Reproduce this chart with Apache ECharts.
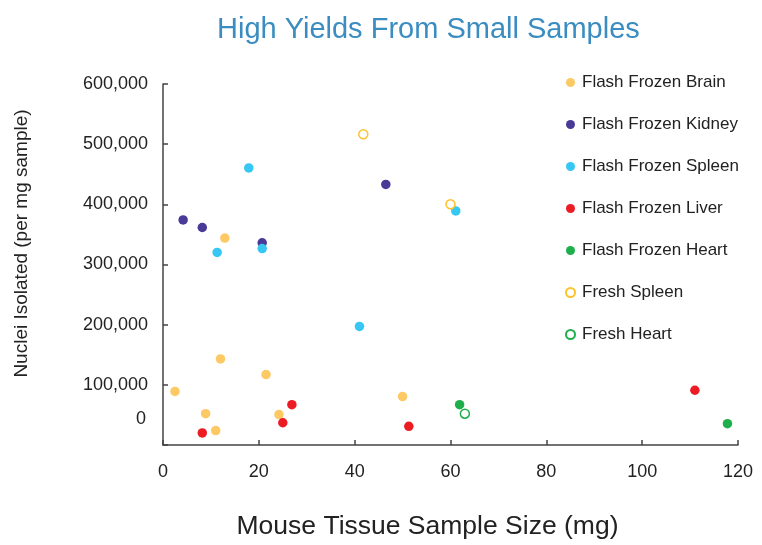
<!DOCTYPE html>
<html><head><meta charset="utf-8">
<script src="https://cdn.jsdelivr.net/npm/echarts@6/dist/echarts.min.js"></script>
<style>html,body{margin:0;padding:0;background:#fff}#c{width:762px;height:545px}</style>
</head><body><div id="c"></div>
<script>
// [sample size mg, nuclei per mg]
const seriesNames = ['Flash Frozen Brain','Flash Frozen Kidney','Flash Frozen Spleen','Flash Frozen Liver','Flash Frozen Heart','Fresh Spleen','Fresh Heart'];
const brain  = [[2.5,89000],[8.9,52000],[11.0,24000],[12.0,143000],[12.9,344000],[21.5,117000],[24.2,50500],[50.0,80500]];
const kidney = [[4.2,374000],[8.2,361500],[20.7,336000],[46.5,433000]];
const spleen = [[11.3,320000],[17.9,460500],[20.7,326500],[41.0,197000],[61.1,389000]];
const liver  = [[8.2,20000],[25.0,37000],[26.9,67000],[51.3,31000],[111.0,91000]];
const heart  = [[61.9,67000],[117.8,35500]];
const freshSpleen = [[41.8,516500],[60.0,400000]];
const freshHeart  = [[63.0,52000]];
const xTicks = [0,20,40,60,80,100,120];
const yTicks = [0,100000,200000,300000,400000,500000,600000];

const fills = ['#FDC965','#4A3A97','#37C7F3','#EC1C24','#1EAF4C'];
const opens = ['#FDC22C','#1EAF4C'];
const font = 'Liberation Sans, Arial, sans-serif';

function filled(name, data, color){
  return {name, type:'scatter', data, symbol:'circle', symbolSize:9.5,
    itemStyle:{color, opacity:1}};
}
function open(name, data, color){
  return {name, type:'scatter', data, symbol:'circle', symbolSize:9,
    itemStyle:{color:'#fff', borderColor:color, borderWidth:1.5, opacity:1}};
}
const chart = echarts.init(document.getElementById('c'), null, {renderer:'canvas'});
chart.setOption({
  animation:false,
  backgroundColor:'#fff',
  textStyle:{fontFamily:font},
  title:{text:'High Yields From Small Samples', left:212, top:10,
    textStyle:{fontFamily:font, fontSize:29, fontWeight:'normal', color:'#3A8CC1'}},
  grid:{left:163, right:24, top:84, bottom:100, containLabel:false, outerBoundsMode:'none'},
  legend:{orient:'vertical', left:560, top:69, itemGap:25, itemWidth:9, itemHeight:9,
    data:seriesNames.map(n=>({name:n, icon:'circle'})),
    textStyle:{fontFamily:font, fontSize:17, color:'#222', lineHeight:17, padding:[0,0,0,2]}},
  xAxis:{type:'value', min:xTicks[0], max:xTicks[xTicks.length-1], interval:20,
    name:'Mouse Tissue Sample Size (mg)', nameLocation:'middle', nameGap:68,
    nameTextStyle:{fontFamily:font, fontSize:26.5, color:'#222', padding:[0,46,0,0]},
    axisLine:{show:true, lineStyle:{color:'#444', width:1.5}},
    axisTick:{show:true, inside:true, length:5, lineStyle:{color:'#444', width:1.5}},
    axisLabel:{fontFamily:font, fontSize:18, color:'#222', margin:18},
    splitLine:{show:false}},
  yAxis:{type:'value', min:yTicks[0], max:yTicks[yTicks.length-1], interval:100000,
    name:'Nuclei Isolated (per mg sample)', nameLocation:'middle', nameGap:132,
    nameTextStyle:{fontFamily:font, fontSize:19, color:'#222', padding:[0,0,0,42]},
    axisLine:{show:true, lineStyle:{color:'#444', width:1.5}},
    axisTick:{show:true, inside:true, length:5, lineStyle:{color:'#444', width:1.5}},
    axisLabel:{fontFamily:font, fontSize:18, color:'#222', margin:15,
      formatter:v=> v===0 ? '{z|0}' : v.toLocaleString('en-US'),
      rich:{z:{fontFamily:font, fontSize:18, color:'#222', padding:[0,2,52,0]}}},
    splitLine:{show:false}},
  series:[
    filled(seriesNames[0], brain, fills[0]),
    filled(seriesNames[1], kidney, fills[1]),
    filled(seriesNames[2], spleen, fills[2]),
    filled(seriesNames[3], liver, fills[3]),
    filled(seriesNames[4], heart, fills[4]),
    open(seriesNames[5], freshSpleen, opens[0]),
    open(seriesNames[6], freshHeart, opens[1])
  ]
});
</script></body></html>
